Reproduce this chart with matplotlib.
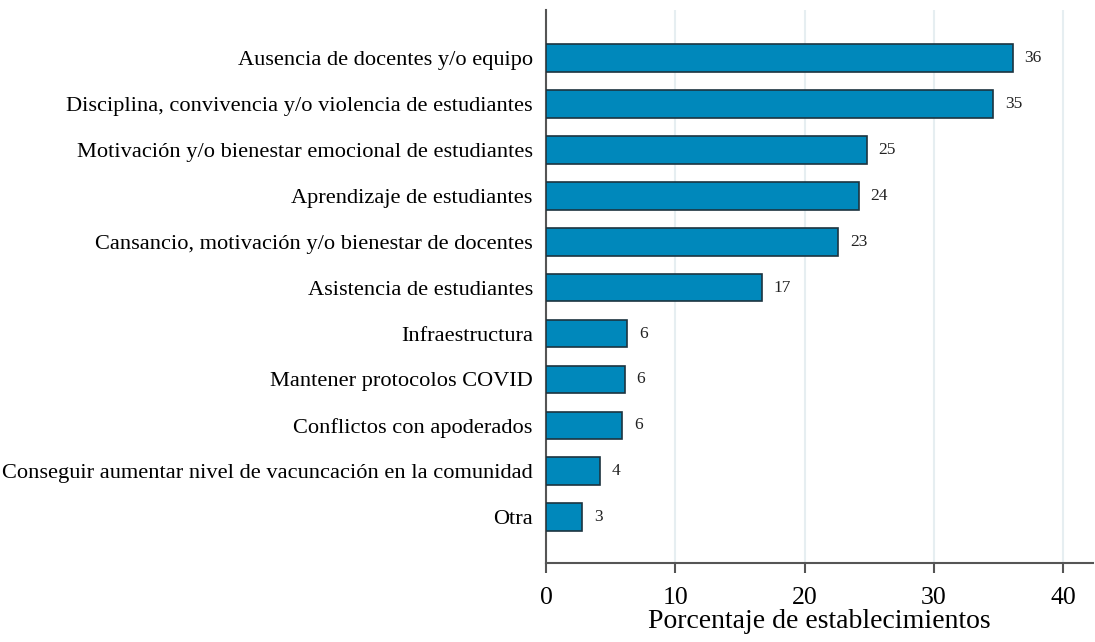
import matplotlib.pyplot as plt

# datos
categorias = [
    "Ausencia de docentes y/o equipo",
    "Disciplina, convivencia y/o violencia de estudiantes",
    "Motivación y/o bienestar emocional de estudiantes",
    "Aprendizaje de estudiantes",
    "Cansancio, motivación y/o bienestar de docentes",
    "Asistencia de estudiantes",
    "Infraestructura",
    "Mantener protocolos COVID",
    "Conflictos con apoderados",
    "Conseguir aumentar nivel de vacuncación en la comunidad",
    "Otra",
]
porcentajes = [36.1, 34.6, 24.8, 24.2, 22.6, 16.7, 6.3, 6.1, 5.9, 4.2, 2.8]
xticks = [0, 10, 20, 30, 40]

plt.rcParams['font.family'] = ['Liberation Serif', 'DejaVu Serif']

fig = plt.figure(figsize=(10.95, 6.42), dpi=100)
ax = fig.add_axes([0.4986, 0.1231, 0.4994, 0.8613])

pos = list(range(len(categorias)))
ax.barh(pos, porcentajes, height=0.6, color='#0088bb', edgecolor='#1c3440', linewidth=1.2, zorder=3)

# etiquetas de valor
for y, v in zip(pos, porcentajes):
    ax.text(v + 0.9, y, f"{v:.0f}", va='center', ha='left', fontsize=12.5, color='#222222')

ax.set_yticks(pos)
ax.set_yticklabels(categorias, fontsize=16.1)
ax.set_ylim(11.0, -1.05)
ax.set_xlim(0, 42.3)
ax.set_xticks(xticks)
ax.set_xticklabels([str(t) for t in xticks], fontsize=18.5)
ax.set_xlabel("Porcentaje de establecimientos", fontsize=20, labelpad=0.5)

ax.tick_params(axis='y', length=0, pad=9.5)
ax.tick_params(axis='x', length=7, width=1.5, color='#555555', pad=10)

ax.grid(axis='x', color='#e6eef1', linewidth=1.5, zorder=0)
ax.spines['top'].set_visible(False)
ax.spines['right'].set_visible(False)
for s in ['left', 'bottom']:
    ax.spines[s].set_color('#555555')
    ax.spines[s].set_linewidth(1.5)

fig.savefig("out.png", dpi=100)
